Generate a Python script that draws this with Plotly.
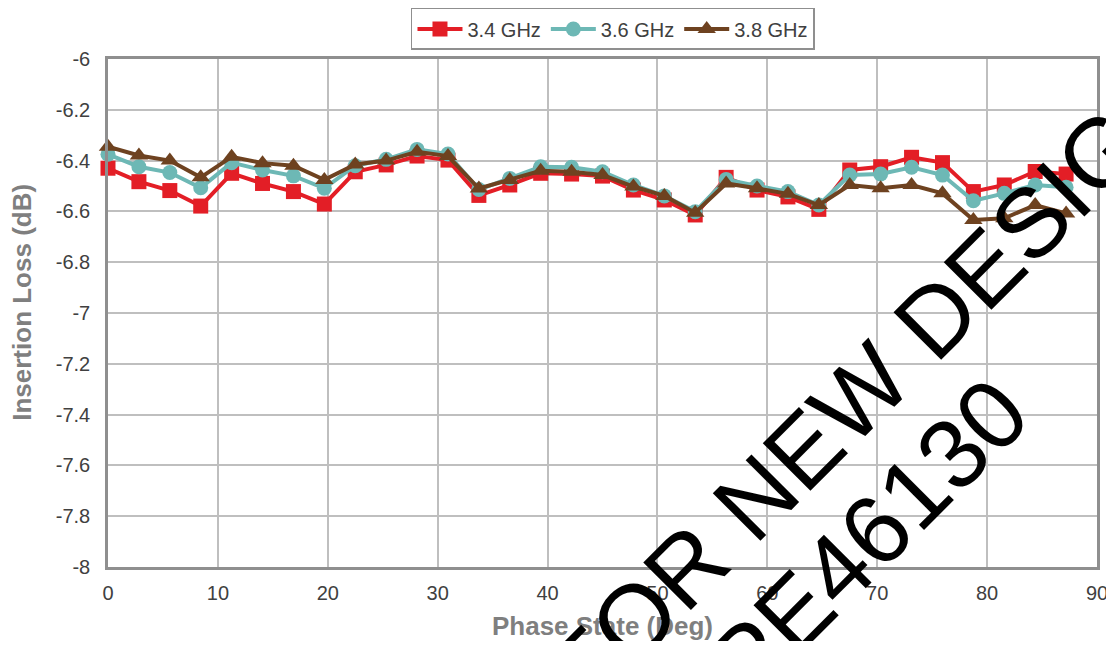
import plotly.graph_objects as go

# ---- data ----
phase_state = [0, 2.8125, 5.625, 8.4375, 11.25, 14.0625, 16.875, 19.6875,
               22.5, 25.3125, 28.125, 30.9375, 33.75, 36.5625, 39.375, 42.1875,
               45, 47.8125, 50.625, 53.4375, 56.25, 59.0625, 61.875, 64.6875,
               67.5, 70.3125, 73.125, 75.9375, 78.75, 81.5625, 84.375, 87.1875]

loss_34 = [-6.430, -6.483, -6.518, -6.579, -6.450, -6.490, -6.522, -6.571,
           -6.444, -6.417, -6.382, -6.398, -6.537, -6.496, -6.450, -6.453,
           -6.461, -6.516, -6.555, -6.614, -6.466, -6.516, -6.543, -6.592,
           -6.437, -6.424, -6.387, -6.408, -6.522, -6.496, -6.443, -6.453]

loss_36 = [-6.375, -6.424, -6.447, -6.507, -6.408, -6.437, -6.460, -6.509,
           -6.420, -6.395, -6.356, -6.374, -6.514, -6.470, -6.424, -6.426,
           -6.444, -6.496, -6.539, -6.601, -6.474, -6.500, -6.522, -6.575,
           -6.457, -6.453, -6.426, -6.457, -6.558, -6.529, -6.496, -6.505]

loss_38 = [-6.345, -6.380, -6.400, -6.466, -6.385, -6.410, -6.420, -6.476,
           -6.415, -6.400, -6.365, -6.382, -6.510, -6.476, -6.440, -6.444,
           -6.457, -6.502, -6.539, -6.605, -6.490, -6.509, -6.531, -6.575,
           -6.496, -6.509, -6.496, -6.529, -6.634, -6.627, -6.575, -6.608]

series_names = ["3.4 GHz", "3.6 GHz", "3.8 GHz"]

y_tick_vals = [-6, -6.2, -6.4, -6.6, -6.8, -7, -7.2, -7.4, -7.6, -7.8, -8]
y_tick_text = ["-6", "-6.2", "-6.4", "-6.6", "-6.8", "-7", "-7.2", "-7.4", "-7.6", "-7.8", "-8"]
x_tick_vals = [0, 10, 20, 30, 40, 50, 60, 70, 80, 90]
x_tick_text = ["0", "10", "20", "30", "40", "50", "60", "70", "80", "90"]

x_title = "Phase State (Deg)"
y_title = "Insertion Loss (dB)"
watermark_lines = ["NOT FOR NEW DESIGN", "USE PE46130"]

# ---- styles ----
colors = ["#E31E26", "#6DB8B5", "#6E4220"]
symbols = ["square", "circle", "triangle-up"]
marker_sizes = [15, 15, 16]
FONT = "Liberation Sans, Arial, sans-serif"

fig = go.Figure()
for name, ys, c, s, ms in zip(series_names, [loss_34, loss_36, loss_38], colors, symbols, marker_sizes):
    fig.add_trace(go.Scatter(
        x=phase_state, y=ys, name=name, mode="lines+markers",
        line=dict(color=c, width=4),
        marker=dict(symbol=s, size=ms, color=c),
        cliponaxis=False,
    ))

axis_common = dict(
    showline=True, linecolor="#8F8F8F", linewidth=2.5, mirror=True,
    showgrid=True, gridcolor="#BFBFBF", gridwidth=1.5,
    zeroline=False, ticks="",
    tickfont=dict(family=FONT, size=20, color="#404040"),
)

fig.update_xaxes(
    range=[0, 90], tickmode="array", tickvals=x_tick_vals, ticktext=x_tick_text,
    ticklabelstandoff=6,
    title=dict(text=f"<b>{x_title}</b>", standoff=16,
               font=dict(family=FONT, size=26, color="#7F7F7F")),
    **axis_common,
)
fig.update_yaxes(
    range=[-8, -6], tickmode="array", tickvals=y_tick_vals, ticktext=y_tick_text,
    ticklabelstandoff=11,
    **axis_common,
)

# y-axis title placed as a rotated annotation so it sits at the far left
fig.add_annotation(
    xref="paper", yref="paper", x=-0.087, y=0.522, text=f"<b>{y_title}</b>",
    showarrow=False, textangle=-90, xanchor="center", yanchor="middle",
    font=dict(family=FONT, size=26, color="#7F7F7F"),
)

annots = [
    dict(text=watermark_lines[0], x=0.6886, y=0.2028),
    dict(text=watermark_lines[1], x=0.6866, y=-0.1024),
]
for a in annots:
    fig.add_annotation(
        xref="paper", yref="paper", x=a["x"], y=a["y"], text=a["text"],
        showarrow=False, textangle=-45, xanchor="center", yanchor="middle",
        font=dict(family=FONT, size=98, color="black"),
    )

# page body adds an 8px margin; the figure is offset so the plot area
# lands at the same place as in the reference
fig.update_layout(
    width=1114, height=633,
    margin=dict(l=100, r=25, t=51, b=74, autoexpand=False),
    plot_bgcolor="white", paper_bgcolor="white",
    font=dict(family=FONT, color="#404040"),
    showlegend=True,
    legend=dict(
        orientation="h", x=0.5106, xanchor="center", y=1.1004, yanchor="top",
        bordercolor="#8F8F8F", borderwidth=1.5, bgcolor="white",
        font=dict(family=FONT, size=20, color="#404040"),
        itemwidth=45, tracegroupgap=0,
    ),
)

fig.write_html("out.html")
